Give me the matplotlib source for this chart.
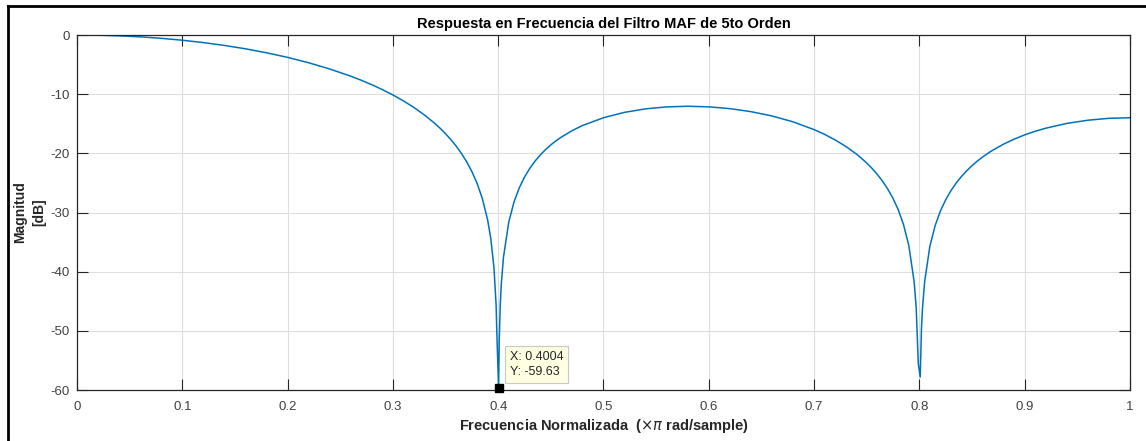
import matplotlib
matplotlib.use("Agg")
import matplotlib.pyplot as plt
from matplotlib.lines import Line2D

plt.rcParams['font.family'] = ['Liberation Sans', 'DejaVu Sans']
plt.rcParams['axes.unicode_minus'] = False

# normalized frequency (x pi rad/sample)
freq = [0.00, 0.02, 0.04, 0.06, 0.08, 0.10, 0.12, 0.14, 0.16, 0.18,
        0.20, 0.22, 0.24, 0.26, 0.27, 0.28, 0.29, 0.30, 0.31, 0.32,
        0.33, 0.34, 0.345, 0.35, 0.355, 0.36, 0.365, 0.37, 0.375, 0.38,
        0.385, 0.39, 0.393, 0.396, 0.398, 0.399, 0.4004, 0.401, 0.402, 0.403,
        0.405, 0.41, 0.415, 0.42, 0.425, 0.43, 0.435, 0.44, 0.445, 0.45,
        0.455, 0.46, 0.47, 0.48, 0.50, 0.52, 0.54, 0.56, 0.58, 0.60,
        0.62, 0.64, 0.66, 0.68, 0.70, 0.71, 0.72, 0.73, 0.74, 0.745,
        0.75, 0.755, 0.76, 0.765, 0.77, 0.775, 0.78, 0.785, 0.79, 0.795,
        0.797, 0.799, 0.8008, 0.802, 0.803, 0.805, 0.81, 0.815, 0.82, 0.825,
        0.83, 0.835, 0.84, 0.845, 0.85, 0.855, 0.86, 0.865, 0.87, 0.88,
        0.89, 0.90, 0.91, 0.92, 0.94, 0.96, 0.98, 1.00]
# magnitude in dB
mag_db = [0.00, -0.03, -0.14, -0.31, -0.56, -0.88, -1.28, -1.76, -2.33, -3.00,
          -3.78, -4.69, -5.74, -6.96, -7.65, -8.40, -9.23, -10.13, -11.13, -12.25,
          -13.52, -14.97, -15.79, -16.68, -17.67, -18.76, -19.99, -21.41, -23.07, -25.09,
          -27.67, -31.28, -34.43, -39.35, -45.56, -51.97, -59.63, -51.6, -45.5, -42.0,
          -37.58, -31.66, -28.23, -25.84, -24.01, -22.54, -21.31, -20.27, -19.36, -18.57,
          -17.87, -17.25, -16.18, -15.30, -13.98, -13.07, -12.48, -12.15, -12.04, -12.14,
          -12.44, -12.95, -13.68, -14.67, -15.99, -16.79, -17.73, -18.81, -20.09, -20.83,
          -21.64, -22.53, -23.55, -24.70, -26.04, -27.62, -29.56, -32.07, -35.61, -41.65,
          -46.1, -55.6, -57.8, -49.6, -46.1, -41.68, -35.69, -32.20, -29.74, -27.84,
          -26.30, -25.01, -23.90, -22.94, -22.08, -21.31, -20.63, -20.00, -19.44, -18.44,
          -17.60, -16.88, -16.27, -15.75, -14.94, -14.40, -14.08, -13.98]

tip_x = 0.4004
tip_y = -59.63

txt = '#262626'

fig = plt.figure(figsize=(11.46, 4.41), dpi=100)
ax = fig.add_axes([0.0672, 0.1156, 0.9188, 0.805])

ax.plot(freq, mag_db, color='#0072BD', lw=1.1)

ax.set_xlim(0, 1)
ax.set_ylim(-60, 0)
ax.set_xticks([0, 0.1, 0.2, 0.3, 0.4, 0.5, 0.6, 0.7, 0.8, 0.9, 1])
ax.set_xticklabels(['0', '0.1', '0.2', '0.3', '0.4', '0.5', '0.6', '0.7', '0.8', '0.9', '1'])
ax.set_yticks([-60, -50, -40, -30, -20, -10, 0])
ax.grid(True, color='#dedede', lw=0.8)
ax.set_axisbelow(True)
ax.tick_params(direction='in', length=8, width=0.8, top=True, right=True,
               labelsize=9.5, colors=txt, labelcolor='#404040', pad=5)
ax.tick_params(axis='x', pad=8)
for s in ax.spines.values():
    s.set_color(txt)
    s.set_linewidth(0.9)

ax.set_title('Respuesta en Frecuencia del Filtro MAF de 5to Orden',
             fontsize=10.5, fontweight='bold', color='black', pad=5)
ax.set_xlabel('Frecuencia Normalizada  ($\\times\\pi$ rad/sample)',
              fontsize=10.5, fontweight='bold', color=txt, labelpad=3)
ax.set_ylabel('Magnitud\n[dB]', fontsize=10, fontweight='bold', color=txt,
              labelpad=3, linespacing=1.5)

# data tip
ax.plot([tip_x], [tip_y], marker='s', ms=6, color='black', clip_on=False, zorder=5)
ax.annotate('X: %.4f\nY: %.2f' % (tip_x, tip_y), xy=(tip_x, tip_y),
            xytext=(8.0, 7.0), textcoords='offset points', ha='left', va='bottom',
            fontsize=9, color='#262626', linespacing=1.35,
            bbox=dict(boxstyle='square,pad=0.4', fc='#FFFFE1', ec='#c8c8c8', lw=0.8),
            annotation_clip=False, zorder=6)

# frame around the screenshot (left and top edges)
fig.add_artist(Line2D([7.5 / 1146, 7.5 / 1146], [0, 1 - 5.5 / 441],
                      transform=fig.transFigure, color='black', lw=2))
fig.add_artist(Line2D([7.5 / 1146, 1], [1 - 5.5 / 441, 1 - 5.5 / 441],
                      transform=fig.transFigure, color='black', lw=2))

fig.savefig('out.png', dpi=100)
